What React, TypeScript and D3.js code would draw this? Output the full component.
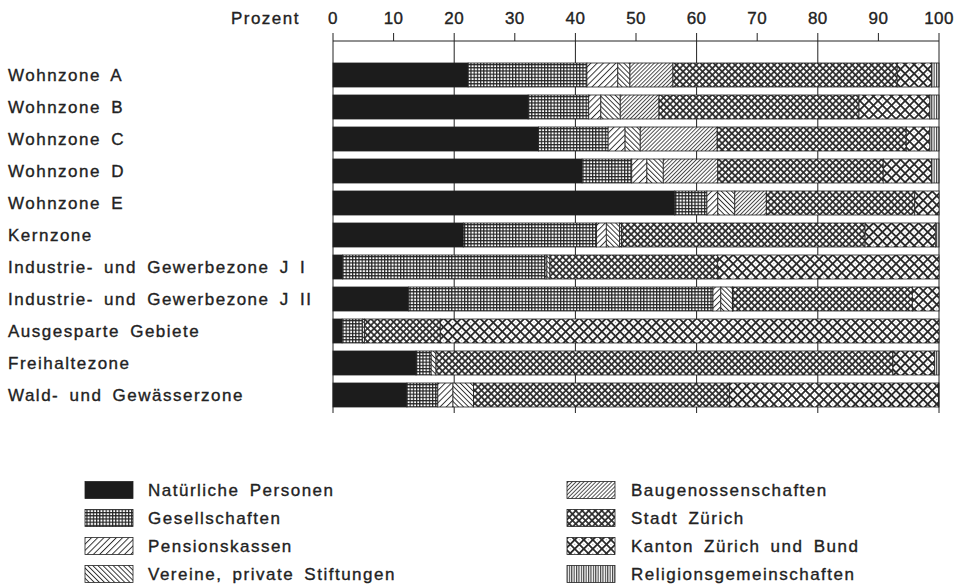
import React from 'react';
import * as d3 from 'd3';

const zones = [
  'Wohnzone A',
  'Wohnzone B',
  'Wohnzone C',
  'Wohnzone D',
  'Wohnzone E',
  'Kernzone',
  'Industrie- und Gewerbezone J I',
  'Industrie- und Gewerbezone J II',
  'Ausgesparte Gebiete',
  'Freihaltezone',
  'Wald- und Gewässerzone',
];

const owners = [
  'Natürliche Personen',
  'Gesellschaften',
  'Pensionskassen',
  'Vereine, private Stiftungen',
  'Baugenossenschaften',
  'Stadt Zürich',
  'Kanton Zürich und Bund',
  'Religionsgemeinschaften',
];

// Prozent je Zone (Reihenfolge wie zones)
const natuerlichePersonen = [22.3, 32.2, 33.9, 41.1, 56.4, 21.5, 1.6, 12.5, 1.5, 13.7, 12.2];
const gesellschaften = [19.6, 10.0, 11.5, 8.2, 5.3, 22.0, 33.4, 50.2, 3.4, 2.5, 5.1];
const pensionskassen = [5.1, 2.0, 2.8, 2.5, 1.8, 1.6, 0.3, 1.3, 0, 0, 2.5];
const vereine = [2.0, 3.2, 2.5, 2.7, 2.8, 2.2, 0.5, 1.9, 0.3, 0.8, 3.4];
const baugenossenschaften = [7.1, 6.4, 12.7, 9.0, 5.2, 0.3, 0, 0.1, 0, 0, 0];
const stadtZuerich = [37.0, 33.0, 31.2, 27.3, 24.5, 40.2, 27.7, 29.6, 12.5, 75.4, 42.2];
const kantonBund = [5.7, 11.7, 3.9, 8.0, 4.0, 11.6, 36.5, 4.4, 82.3, 6.9, 34.5];
const religion = [1.2, 1.5, 1.5, 1.2, 0, 0.6, 0, 0, 0, 0.7, 0.1];

const series = [
  natuerlichePersonen, gesellschaften, pensionskassen, vereine,
  baugenossenschaften, stadtZuerich, kantonBund, religion,
];

const tickValues = [0, 10, 20, 30, 40, 50, 60, 70, 80, 90, 100];
const axisTitle = 'Prozent';

const fills = [
  '#1c1c1c',
  'url(#pGes)',
  'url(#pPens)',
  'url(#pVer)',
  'url(#pBau)',
  'url(#pStadt)',
  'url(#pKanton)',
  'url(#pRel)',
];

const font = "'Liberation Sans', Arial, sans-serif";
const ink = '#222';

export default function App() {
  const width = 960;
  const height = 588;

  const x = d3.scaleLinear().domain([0, 100]).range([333, 939]);
  const y = d3.scaleBand<string>().domain(zones).range([59, 411]).paddingInner(0.25).paddingOuter(0.125);

  const table = zones.map((z, i) => {
    const row: any = { zone: z };
    owners.forEach((o, k) => { row[o] = series[k][i]; });
    return row;
  });
  const stacked = d3.stack<any>().keys(owners)(table);

  const axisY = 41;
  const gridBottom = 413;

  const textStyle: React.CSSProperties = {
    fontFamily: font,
    fontSize: 17,
    fontWeight: 400,
    letterSpacing: '1.5px',
    wordSpacing: '4px',
    fill: ink,
    stroke: ink,
    strokeWidth: 0.35,
  };

  const legendRows = [490, 518, 546, 574];

  return (
    <svg
      width={width}
      height={height}
      viewBox={`0 0 ${width} ${height}`}
      style={{ position: 'absolute', left: 0, top: 0, display: 'block', background: '#fff' }}
    >
      <defs>
        <pattern id="pGes" width={3.2} height={3.2} patternUnits="userSpaceOnUse">
          <rect width={3.2} height={3.2} fill="#222" />
          <rect x={1.2} y={1.2} width={2} height={2} fill="#fff" />
        </pattern>
        <pattern id="pPens" width={4.4} height={4.4} patternUnits="userSpaceOnUse" patternTransform="rotate(45)">
          <rect width={4.4} height={4.4} fill="#fff" />
          <line x1={0.5} y1={0} x2={0.5} y2={4.4} stroke="#222" strokeWidth={0.9} />
        </pattern>
        <pattern id="pVer" width={3.6} height={3.6} patternUnits="userSpaceOnUse" patternTransform="rotate(-45)">
          <rect width={3.6} height={3.6} fill="#fff" />
          <line x1={0.5} y1={0} x2={0.5} y2={3.6} stroke="#222" strokeWidth={0.9} />
        </pattern>
        <pattern id="pBau" width={2.8} height={2.8} patternUnits="userSpaceOnUse" patternTransform="rotate(45)">
          <rect width={2.8} height={2.8} fill="#fff" />
          <line x1={0.5} y1={0} x2={0.5} y2={2.8} stroke="#222" strokeWidth={0.8} />
        </pattern>
        <pattern id="pStadt" width={4.6} height={4.6} patternUnits="userSpaceOnUse" patternTransform="rotate(45)">
          <rect width={4.6} height={4.6} fill="#2a2a2a" />
          <rect x={0.9} y={0.9} width={2.9} height={2.9} fill="#fff" />
        </pattern>
        <pattern id="pKanton" width={6.4} height={6.4} patternUnits="userSpaceOnUse" patternTransform="rotate(45)">
          <rect width={6.4} height={6.4} fill="#fff" />
          <rect x={0} y={0} width={6.4} height={1.8} fill="#2a2a2a" />
          <rect x={0} y={0} width={1.8} height={6.4} fill="#2a2a2a" />
          <rect x={3.6} y={3.6} width={0.9} height={0.9} fill="#888" />
        </pattern>
        <pattern id="pRel" width={2.4} height={2.4} patternUnits="userSpaceOnUse">
          <rect width={2.4} height={2.4} fill="#fff" />
          <line x1={0.6} y1={0} x2={0.6} y2={2.4} stroke="#222" strokeWidth={1} />
        </pattern>
      </defs>

      {/* Achse oben */}
      <text x={300} y={axisY - 23} textAnchor="end" dominantBaseline="central" style={textStyle}>{axisTitle}</text>
      <line x1={x(0)} x2={x(100)} y1={axisY} y2={axisY} stroke={ink} strokeWidth={1} />
      {tickValues.map(t => (
        <g key={t}>
          <line
            x1={x(t)} x2={x(t)}
            y1={axisY - 8}
            y2={t % 20 === 0 ? gridBottom : axisY}
            stroke={ink} strokeWidth={1}
          />
          <text x={x(t)} y={axisY - 23} textAnchor="middle" dominantBaseline="central" style={{ ...textStyle, letterSpacing: '0.4px' }}>{t}</text>
        </g>
      ))}

      {/* Zonen */}
      {zones.map(z => (
        <text key={z} x={8} y={(y(z) ?? 0) + y.bandwidth() / 2} dominantBaseline="central" style={textStyle}>{z}</text>
      ))}

      {/* Balken */}
      {stacked.map((layer, k) => (
        <g key={layer.key} fill={fills[k]}>
          {layer.map((d, i) => {
            const w = x(d[1]) - x(d[0]);
            if (w <= 0) return null;
            return (
              <rect
                key={i}
                x={x(d[0])}
                y={y(zones[i])}
                width={w}
                height={y.bandwidth()}
                stroke="#222"
                strokeWidth={0.8}
              />
            );
          })}
        </g>
      ))}

      {/* Legende */}
      {owners.map((o, k) => {
        const col = k < 4 ? 0 : 1;
        const row = k % 4;
        const sx = col === 0 ? 85 : 567;
        const cy = legendRows[row];
        return (
          <g key={o}>
            <rect x={sx} y={cy - 8.5} width={48} height={17} fill={fills[k]} stroke="#222" strokeWidth={0.8} />
            <text x={sx + (col === 0 ? 63 : 64)} y={cy} dominantBaseline="central" style={textStyle}>{o}</text>
          </g>
        );
      })}
    </svg>
  );
}
